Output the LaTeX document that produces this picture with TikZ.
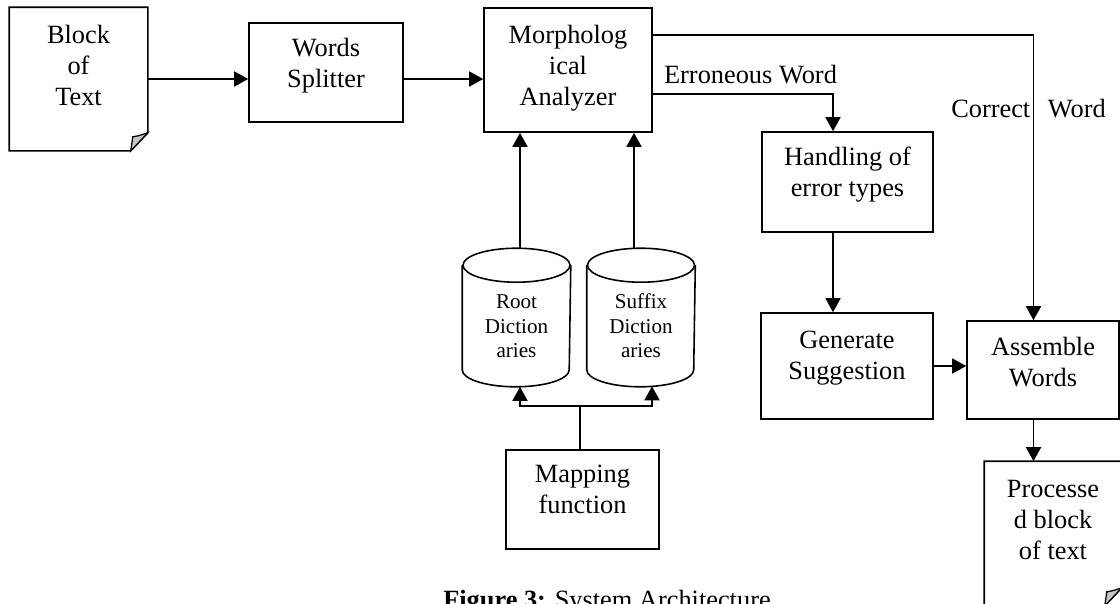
\documentclass[tikz,border=0pt]{standalone}
\usepackage{fontspec}
\setmainfont{Liberation Serif}
\usetikzlibrary{positioning,arrows.meta}

% cylinder outline round a named node
\newcommand{\dbcyl}[1]{%
  \draw ([yshift=-0.34cm]#1.north west) -- ([yshift=0.34cm]#1.south west)
     arc[start angle=180, end angle=360, x radius=1.07cm, y radius=0.34cm]
     -- ([yshift=-0.34cm]#1.north east);
  \draw ([yshift=-0.34cm]#1.north) ellipse [x radius=1.07cm, y radius=0.34cm];}

\begin{document}
\begin{tikzpicture}[line width=0.9pt,
    box/.style = {draw, rectangle, align=center, inner sep=0pt, font=\fontsize{15}{17.6}\selectfont},
    doc/.style = {rectangle, align=center, inner sep=0pt, font=\fontsize{15}{17.6}\selectfont},
    dict/.style = {rectangle, align=center, inner sep=0pt, minimum width=2.14cm, minimum height=2.74cm,
        text height=45.5pt, text depth=0pt, font=\fontsize{12}{13.9}\selectfont},
    lbl/.style = {inner sep=0pt, font=\fontsize{15}{17.6}\selectfont},
    fold/.style = {fill=gray!45, line width=0.7pt},
    arr/.style = {-{Triangle[length=0.28cm,width=0.3cm]}}]
\clip (0,0) rectangle (22.4,-12.06);

% boxes
\node[doc, minimum width=2.74cm, minimum height=2.84cm, text depth=16pt] (blk) at (1.57,-1.58) {Block\\of\\Text};
\node[box, minimum width=3.08cm, minimum height=1.98cm, text depth=11.5pt] (ws) at (6.52,-1.45) {Words\\Splitter};
\node[box, minimum width=3.36cm, minimum height=2.48cm, text depth=5pt] (morph) at (11.36,-1.40) {Morpholog\\ical\\Analyzer};
\node[box, minimum width=3.42cm, minimum height=2.0cm, text depth=12pt] (hnd) at (16.95,-3.64) {Handling of\\error types};
\node[box, minimum width=3.44cm, minimum height=2.12cm, text depth=12pt] (gen) at (16.94,-7.32) {Generate\\Suggestion};
\node[box, minimum width=3.04cm, minimum height=1.96cm, text depth=9pt] (asm) at (20.86,-7.40) {Assemble\\Words};
\node[doc, minimum width=2.72cm, minimum height=2.86cm, text depth=15.4pt] (proc) at (21.06,-10.67) {Processe\\d block\\of text};
\node[box, minimum width=3.06cm, minimum height=1.98cm, text depth=11.4pt] (map) at (11.65,-9.99) {Mapping\\function};

% dictionaries
\node[dict] (root) at (10.33,-6.35) {Root\\Diction\\aries};
\node[dict] (suf) at (12.82,-6.35) {Suffix\\Diction\\aries};
\dbcyl{root}
\dbcyl{suf}

% document outlines
\draw (blk.north west) -- (blk.north east) -- ([yshift=0.36cm]blk.south east)
    -- ([xshift=-0.34cm]blk.south east) -- (blk.south west) -- cycle;
\filldraw[fold] ([xshift=-0.34cm]blk.south east) .. controls ([xshift=-0.3cm,yshift=0.14cm]blk.south east)
    .. ([xshift=-0.3cm,yshift=0.28cm]blk.south east) .. controls ([xshift=-0.18cm,yshift=0.3cm]blk.south east)
    .. ([yshift=0.36cm]blk.south east) -- cycle;
\draw (proc.north west) -- (proc.north east) -- ([yshift=0.36cm]proc.south east)
    -- ([xshift=-0.34cm]proc.south east) -- (proc.south west) -- cycle;
\filldraw[fold] ([xshift=-0.34cm]proc.south east) .. controls ([xshift=-0.3cm,yshift=0.14cm]proc.south east)
    .. ([xshift=-0.3cm,yshift=0.28cm]proc.south east) .. controls ([xshift=-0.18cm,yshift=0.3cm]proc.south east)
    .. ([yshift=0.36cm]proc.south east) -- cycle;

% labels
\node[lbl] (err) at (15.01,-1.50) {Erroneous Word};
\node[lbl] (cor) at (20.57,-2.18) {Correct\hspace{10pt}Word};
\node[lbl, anchor=base] (cap) at (12.14,-12.16) {\textbf{Figure 3:} System Architecture};

\coordinate (cw) at (20.67,-0.70);
\coordinate (ew) at (16.66,-1.88);
\coordinate (mj) at (11.60,-8.12);

% connectors
\draw[arr] (blk.east) -- (ws.west |- blk.east);
\draw[arr] (ws.east |- blk.east) -- (morph.west |- blk.east);
\draw[arr] (morph.east |- cw) -- (cw) -- (cw |- asm.north);
\draw[arr] (morph.east |- ew) -- (ew) -- (ew |- hnd.north);
\draw[arr] (ew |- hnd.south) -- (ew |- gen.north);
\draw[arr] (gen.east) -- (gen.east -| asm.west);
\draw[arr] (cw |- asm.south) -- (cw |- proc.north);
\draw[arr] ([xshift=0.07cm]root.north) -- ([xshift=0.07cm]root.north |- morph.south);
\draw[arr] ([xshift=-0.14cm]suf.north) -- ([xshift=-0.14cm]suf.north |- morph.south);
\draw (map.north -| mj) -- (mj);
\draw[arr] (mj) -| ([xshift=0.07cm]root.south);
\draw[arr] (mj) -| ([xshift=0.22cm,yshift=0.01cm]suf.south);
\end{tikzpicture}
\end{document}
